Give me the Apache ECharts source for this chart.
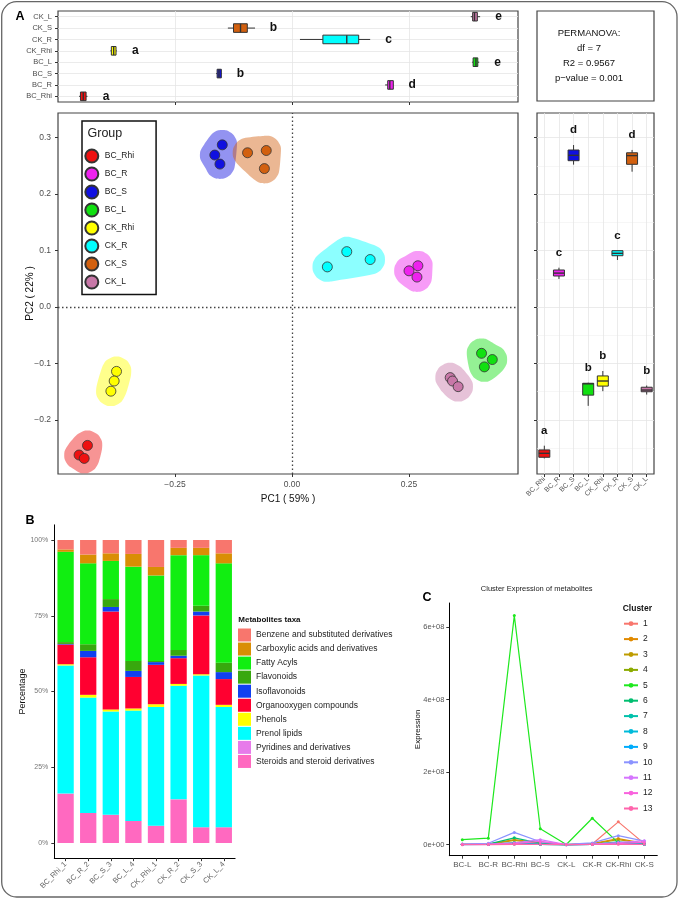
<!DOCTYPE html>
<html><head><meta charset="utf-8">
<script src="https://cdn.jsdelivr.net/npm/echarts@6/dist/echarts.min.js"></script>
<style>html,body{margin:0;padding:0;background:#fff}#c{width:679px;height:899px}</style>
</head><body><div id="c"></div><script>
const FONT = 'Liberation Sans, Arial, sans-serif';

// ---------- Panel A data ----------
const groups = ['BC_Rhi','BC_R','BC_S','BC_L','CK_Rhi','CK_R','CK_S','CK_L'];
const groupColors = ['#EE1111','#EE22EE','#1010E0','#11E011','#FFFF00','#00FFFF','#D2600F','#C878A8'];
const pc1Values = [
  [-0.437,-0.455,-0.444],
  [0.250,0.269,0.267],
  [-0.149,-0.165,-0.154],
  [0.405,0.428,0.411],
  [-0.375,-0.380,-0.387],
  [0.0755,0.117,0.167],
  [-0.095,-0.055,-0.059],
  [0.338,0.343,0.355]
];
const pc2Values = [
  [-0.245,-0.262,-0.268],
  [0.064,0.073,0.053],
  [0.287,0.269,0.253],
  [-0.082,-0.093,-0.106],
  [-0.114,-0.131,-0.149],
  [0.071,0.098,0.084],
  [0.273,0.277,0.245],
  [-0.125,-0.131,-0.141]
];
// boxplot stats: [min, q1, median, q3, max]
const pc1Box = [
  [-0.455,-0.452,-0.446,-0.440,-0.437],
  [0.199,0.2045,0.209,0.2165,0.217],
  [-0.162,-0.160,-0.156,-0.151,-0.150],
  [0.385,0.387,0.393,0.397,0.400],
  [-0.388,-0.386,-0.381,-0.376,-0.3745],
  [0.017,0.066,0.117,0.1425,0.167],
  [-0.137,-0.125,-0.110,-0.0955,-0.079],
  [0.382,0.386,0.390,0.396,0.402]
];
const pc1Letters = ['a','d','b','e','a','c','b','e'];
const pc2Box = [
  [-0.268,-0.266,-0.259,-0.253,-0.2455],
  [0.0496,0.0549,0.060,0.0655,0.0696],
  [0.252,0.259,0.2685,0.2779,0.2867],
  [-0.175,-0.156,-0.136,-0.135,-0.134],
  [-0.149,-0.140,-0.131,-0.122,-0.1133],
  [0.0832,0.0908,0.095,0.0997,0.0997],
  [0.2395,0.2526,0.268,0.273,0.278],
  [-0.155,-0.150,-0.147,-0.142,-0.139]
];
const pc2Letters = ['a','c','d','b','b','c','d','b'];
const pc1Ticks = [-0.25, 0, 0.25];
const pc2Ticks = [-0.2, -0.1, 0, 0.1, 0.2, 0.3];
const permanovaLines = ['PERMANOVA:', 'df = 7', 'R2 = 0.9567', 'p\u2212value = 0.001'];

// ---------- Panel B data ----------
const sampleNames = ['BC_Rhi_1','BC_R_2','BC_S_3','BC_L_4','CK_Rhi_1','CK_R_2','CK_S_3','CK_L_4'];
const taxaNames = ['Benzene and substituted derivatives','Carboxylic acids and derivatives','Fatty Acyls','Flavonoids','Isoflavonoids','Organooxygen compounds','Phenols','Prenol lipids','Pyridines and derivatives','Steroids and steroid derivatives'];
const taxaColors = ['#F8766D','#D98E04','#11EE11','#38A80E','#1040F0','#FF0030','#FFFF00','#00FFFF','#E77BEA','#FF69C0'];
const benzene      = [3.1,4.8,4.4,4.6,8.9,2.6,2.6,4.4];
const carboxylic   = [0.8,2.9,2.5,4.2,2.8,2.4,2.4,3.3];
const fattyAcyls   = [29.8,26.7,12.6,31.1,28.2,31.3,16.7,32.8];
const flavonoids   = [0.6,2.2,2.6,3.3,0.4,1.9,1.9,3.1];
const isoflavonoids= [0.2,2.1,1.5,2.0,0.9,0.8,1.3,2.3];
const organooxygen = [6.5,12.4,32.3,10.4,13.0,8.5,19.4,8.5];
const phenols      = [0.4,0.9,0.7,0.7,0.9,0.6,0.4,0.7];
const prenolLipids = [42.3,38.1,34.1,36.4,39.2,37.5,50.1,39.7];
const pyridines    = [0,0,0,0,0,0,0,0];
const steroids     = [16.3,9.9,9.3,7.3,5.7,14.4,5.2,5.2];
const taxaValues = [benzene,carboxylic,fattyAcyls,flavonoids,isoflavonoids,organooxygen,phenols,prenolLipids,pyridines,steroids];
const pctTicks = [0,25,50,75,100];

// ---------- Panel C data ----------
const clusterX = ['BC-L','BC-R','BC-Rhi','BC-S','CK-L','CK-R','CK-Rhi','CK-S'];
const clusterNames = ['1','2','3','4','5','6','7','8','9','10','11','12','13'];
const clusterColors = ['#F8766D','#E18A00','#BE9C00','#8CAB00','#1EE81E','#00BE70','#00C1AB','#00BBDA','#00ACFC','#8B93FF','#D575FE','#F962DD','#FF65AC'];
const cluster1  = [1e6,1e6,2e6,1e6,0.5e6,2e6,6.3e7,3e6];
const cluster2  = [1e6,1.5e6,1.4e7,5e6,0.5e6,3e6,1.7e7,4e6];
const cluster3  = [0.5e6,1e6,1.2e7,3e6,0.3e6,2e6,1.4e7,3e6];
const cluster4  = [0.5e6,1e6,4e6,1e6,0.3e6,1e6,4e6,1e6];
const cluster5  = [1.4e7,1.8e7,6.32e8,4.4e7,0.5e6,7.3e7,5e6,2e6];
const cluster6  = [1e6,1.5e6,1.9e7,4e6,0.5e6,2e6,6e6,2e6];
const cluster7  = [0.5e6,1e6,6e6,2e6,0.3e6,1e6,8e6,2e6];
const cluster8  = [0.5e6,0.5e6,3e6,1e6,0.2e6,1e6,4e6,1e6];
const cluster9  = [0.3e6,0.5e6,2e6,1e6,0.2e6,1e6,3e6,1e6];
const cluster10 = [2e6,4e6,3.4e7,8e6,1e6,5e6,2.5e7,1e7];
const cluster11 = [1e6,2e6,5e6,1.4e7,0.5e6,2e6,6e6,1.1e7];
const cluster12 = [0.5e6,1e6,3e6,9e6,0.3e6,1e6,3e6,7e6];
const cluster13 = [0.2e6,0.3e6,1e6,1e6,0.1e6,0.5e6,1e6,1e6];
const clusterValues = [cluster1,cluster2,cluster3,cluster4,cluster5,cluster6,cluster7,cluster8,cluster9,cluster10,cluster11,cluster12,cluster13];
const exprTicks = [0,2e8,4e8,6e8];

// ---------- helpers ----------
function rgba(hex, a){const n=parseInt(hex.slice(1),16);return `rgba(${n>>16&255},${n>>8&255},${n&255},${a})`;}
function minus(s){return s.replace('-','\u2212');}
function convexHull(pts){
  pts=pts.slice().sort((a,b)=>a[0]-b[0]||a[1]-b[1]);
  const cr=(o,a,b)=>(a[0]-o[0])*(b[1]-o[1])-(a[1]-o[1])*(b[0]-o[0]);
  const lo=[],up=[];
  for(const p of pts){while(lo.length>=2&&cr(lo[lo.length-2],lo[lo.length-1],p)<=0)lo.pop();lo.push(p);}
  for(let i=pts.length-1;i>=0;i--){const p=pts[i];while(up.length>=2&&cr(up[up.length-2],up[up.length-1],p)<=0)up.pop();up.push(p);}
  up.pop();lo.pop();return lo.concat(up);
}
const STROKE='#333';
function boxRender(horizontal, letters){
  return function(params, api){
    const i=api.value(0);
    const v=[1,2,3,4,5].map(k=>api.value(k));
    const pt=x=>horizontal?api.coord([x,i]):api.coord([i,x]);
    const p=v.map(pt);
    const ch=[];
    if(horizontal){
      const y=p[2][1], h=4.3;
      ch.push({type:'line',shape:{x1:p[0][0],y1:y,x2:p[1][0],y2:y},style:{stroke:STROKE,lineWidth:1}});
      ch.push({type:'line',shape:{x1:p[3][0],y1:y,x2:p[4][0],y2:y},style:{stroke:STROKE,lineWidth:1}});
      ch.push({type:'rect',shape:{x:p[1][0],y:y-h,width:Math.max(p[3][0]-p[1][0],1),height:2*h},style:{fill:groupColors[i],stroke:STROKE,lineWidth:1}});
      ch.push({type:'line',shape:{x1:p[2][0],y1:y-h,x2:p[2][0],y2:y+h},style:{stroke:STROKE,lineWidth:1.4}});
      ch.push({type:'text',x:p[4][0]+18.5,y:y,style:{text:letters[i],fill:'#111',font:'bold 12px '+FONT,align:'center',verticalAlign:'middle',textAlign:'center',textVerticalAlign:'middle'}});
    } else {
      const x=p[2][0], h=5.5;
      ch.push({type:'line',shape:{x1:x,y1:p[0][1],x2:x,y2:p[1][1]},style:{stroke:STROKE,lineWidth:1}});
      ch.push({type:'line',shape:{x1:x,y1:p[3][1],x2:x,y2:p[4][1]},style:{stroke:STROKE,lineWidth:1}});
      ch.push({type:'rect',shape:{x:x-h,y:p[3][1],width:2*h,height:Math.max(p[1][1]-p[3][1],1)},style:{fill:groupColors[i],stroke:STROKE,lineWidth:1}});
      ch.push({type:'line',shape:{x1:x-h,y1:p[2][1],x2:x+h,y2:p[2][1]},style:{stroke:STROKE,lineWidth:1.4}});
      ch.push({type:'text',x:x,y:p[4][1]-15,style:{text:letters[i],fill:'#111',font:'bold 11.5px '+FONT,align:'center',verticalAlign:'middle',textAlign:'center',textVerticalAlign:'middle'}});
    }
    return {type:'group',children:ch};
  };
}

const PC1_MIN=-0.5, PC1_MAX=0.4829, PC2_MIN=-0.2956, PC2_MAX=0.3434;
const lblGray='#4d4d4d';

const chart=echarts.init(document.getElementById('c'),null,{renderer:'canvas'});
const series=[];

// top boxplot (PC1)
series.push({type:'custom',name:'boxPC1',xAxisIndex:0,yAxisIndex:0,
  data:pc1Box.map((b,i)=>[i,...b]),encode:{x:[1,2,3,4,5],y:0},renderItem:boxRender(true,pc1Letters),z:3});
// hulls
series.push({type:'custom',name:'hulls',xAxisIndex:1,yAxisIndex:1,z:1,
  data:groups.map((g,i)=>[pc1Values[i][0],pc2Values[i][0],i]),encode:{x:0,y:1},
  renderItem:function(params,api){
    const gi=api.value(2), R=15, pts=[];
    pc1Values[gi].forEach((x,k)=>{
      const c=api.coord([x,pc2Values[gi][k]]);
      for(let a=0;a<12;a++){const t=(a+0.5)/12*2*Math.PI;pts.push([c[0]+R*Math.cos(t),c[1]+R*Math.sin(t)]);}
    });
    return {type:'polygon',shape:{points:convexHull(pts),smooth:0.25},style:{fill:rgba(groupColors[gi],0.45)}};
  }});
// scatter
groups.forEach((g,i)=>{
  const s={type:'scatter',name:g,xAxisIndex:1,yAxisIndex:1,z:3,symbol:'circle',symbolSize:10,
    data:pc1Values[i].map((x,k)=>[x,pc2Values[i][k]]),
    itemStyle:{color:groupColors[i],borderColor:'#333',borderWidth:0.8,opacity:1}};
  if(i===0){
    s.markLine={silent:true,symbol:['none','none'],label:{show:false},
      lineStyle:{type:[1.5,2.5],color:'#444',width:1.3},data:[{xAxis:0},{yAxis:0}]};
  }
  series.push(s);
});
// right boxplot (PC2)
series.push({type:'custom',name:'boxPC2',xAxisIndex:2,yAxisIndex:2,
  data:pc2Box.map((b,i)=>[i,...b]),encode:{x:0,y:[1,2,3,4,5]},renderItem:boxRender(false,pc2Letters),z:3});
// B stacked bars (bottom first)
for(let t=taxaNames.length-1;t>=0;t--){
  series.push({type:'bar',name:taxaNames[t],xAxisIndex:3,yAxisIndex:3,stack:'taxa',barWidth:16.3,
    data:taxaValues[t],itemStyle:{color:taxaColors[t]}});
}
// C lines
clusterNames.forEach((n,i)=>{
  series.push({type:'line',name:n,xAxisIndex:4,yAxisIndex:4,data:clusterValues[i],
    symbol:'circle',symbolSize:3,showSymbol:true,
    lineStyle:{width:1.2,color:clusterColors[i]},itemStyle:{color:clusterColors[i]}});
});

const gridBorder={show:true,borderColor:'#444',borderWidth:1.2,backgroundColor:'transparent'};
const splitLight={show:true,lineStyle:{color:'#e6e6e6',width:0.8}};
const idxAxis=(extra)=>Object.assign({type:'value',min:-0.5,max:7.5,splitNumber:8,minInterval:1,maxInterval:1,
  axisLine:{show:false,onZero:false},splitLine:splitLight},extra);

const option={
  animation:false,
  textStyle:{fontFamily:FONT},
  grid:[
    Object.assign({left:58,top:11,width:460,height:91},gridBorder),
    Object.assign({left:58,top:113,width:460,height:361},gridBorder),
    Object.assign({left:537,top:113,width:117,height:361},gridBorder),
    {left:54.3,top:524.85,width:180.8,height:333.3},
    {left:449.3,top:603,width:208,height:252.7}
  ],
  xAxis:[
    {type:'value',gridIndex:0,min:PC1_MIN,max:PC1_MAX,interval:0.125,
     axisLine:{show:false,onZero:false},axisLabel:{show:false},
     axisTick:{show:true,customValues:pc1Ticks,length:3,lineStyle:{color:'#333'}},splitLine:splitLight},
    {type:'value',gridIndex:1,min:PC1_MIN,max:PC1_MAX,interval:0.125,
     axisLine:{show:false,onZero:false},
     axisLabel:{customValues:pc1Ticks,fontSize:8.5,color:lblGray,margin:6,formatter:v=>minus(v.toFixed(2))},
     axisTick:{show:true,customValues:pc1Ticks,length:3,lineStyle:{color:'#333'}},splitLine:{show:false},
     name:'PC1 ( 59% )',nameLocation:'middle',nameGap:20,nameMoveOverlap:false,nameTextStyle:{fontSize:10,color:'#111'}},
    idxAxis({gridIndex:2,
     axisLabel:{customValues:[0,1,2,3,4,5,6,7],formatter:v=>groups[Math.round(v)],rotate:45,fontSize:7,color:'#555',margin:4},
     axisTick:{show:true,customValues:[0,1,2,3,4,5,6,7],length:3,lineStyle:{color:'#333'}}}),
    {type:'category',gridIndex:3,data:sampleNames,boundaryGap:true,
     axisLine:{show:true,onZero:false,lineStyle:{color:'#000',width:1}},
     axisTick:{show:true,alignWithLabel:true,length:3,lineStyle:{color:'#333'}},
     axisLabel:{rotate:45,fontSize:7.5,color:'#666',margin:5,interval:0}},
    {type:'category',gridIndex:4,data:clusterX,boundaryGap:true,
     axisLine:{show:true,onZero:false,lineStyle:{color:'#000',width:1}},
     axisTick:{show:true,alignWithLabel:true,length:3,lineStyle:{color:'#333'}},
     axisLabel:{fontSize:8,color:'#555',margin:5,interval:0,hideOverlap:false}}
  ],
  yAxis:[
    idxAxis({gridIndex:0,
     axisLabel:{customValues:[0,1,2,3,4,5,6,7],formatter:v=>groups[Math.round(v)],fontSize:7.5,color:lblGray,margin:6},
     axisTick:{show:true,customValues:[0,1,2,3,4,5,6,7],length:3,lineStyle:{color:'#333'}}}),
    {type:'value',gridIndex:1,min:PC2_MIN,max:PC2_MAX,splitNumber:6,
     axisLine:{show:false,onZero:false},
     axisLabel:{customValues:pc2Ticks,fontSize:8.5,color:lblGray,margin:7,formatter:v=>minus(v.toFixed(1))},
     axisTick:{show:true,customValues:pc2Ticks,length:3,lineStyle:{color:'#333'}},splitLine:{show:false},
     name:'PC2 ( 22% )',nameLocation:'middle',nameRotate:90,nameGap:23,nameMoveOverlap:false,nameTextStyle:{fontSize:10,color:'#111'}},
    {type:'value',gridIndex:2,min:PC2_MIN,max:PC2_MAX,splitNumber:6,
     axisLine:{show:false,onZero:false},axisLabel:{show:false},
     axisTick:{show:true,customValues:pc2Ticks,length:3,lineStyle:{color:'#333'}},
     splitLine:splitLight,minorTick:{show:false,splitNumber:2},
     minorSplitLine:{show:true,lineStyle:{color:'#f0f0f0',width:0.6}}},
    {type:'value',gridIndex:3,min:-5,max:105,
     axisLine:{show:true,onZero:false,lineStyle:{color:'#000',width:1}},
     axisTick:{show:true,customValues:pctTicks,length:3,lineStyle:{color:'#333'}},
     axisLabel:{customValues:pctTicks,formatter:v=>v+'%',fontSize:7,color:'#777',margin:6},
     splitLine:{show:false},
     name:'Percentage',nameLocation:'middle',nameRotate:90,nameGap:27,nameMoveOverlap:false,nameTextStyle:{fontSize:9,color:'#111'}},
    {type:'value',gridIndex:4,min:-0.3034e8,max:6.668e8,
     axisLine:{show:true,onZero:false,lineStyle:{color:'#000',width:1}},
     axisTick:{show:true,customValues:exprTicks,length:3,lineStyle:{color:'#333'}},
     axisLabel:{customValues:exprTicks,fontSize:7.5,color:'#555',margin:5,
       formatter:v=>v===0?'0e+00':(v/1e8)+'e+08'},
     splitLine:{show:false},
     name:'Expression',nameLocation:'middle',nameRotate:90,nameGap:28,nameMoveOverlap:false,nameTextStyle:{fontSize:8,color:'#111'}}
  ],
  legend:[
    {data:groups,orient:'vertical',left:82,top:121,icon:'circle',itemWidth:16,itemHeight:13,itemGap:3,
     padding:[27.5,22,5,2.3],borderColor:'#111',borderWidth:1.5,selectedMode:false,
     textStyle:{fontSize:8.5,color:'#222',fontFamily:FONT}},
    {data:taxaNames,orient:'vertical',left:238,top:628.5,icon:'rect',itemWidth:13,itemHeight:13,itemGap:1.05,
     padding:0,selectedMode:false,textStyle:{fontSize:8.5,color:'#222',fontFamily:FONT}},
    {data:clusterNames,orient:'vertical',left:623,top:619.2,itemWidth:14,itemHeight:6,itemGap:6.4,
     padding:0,selectedMode:false,textStyle:{fontSize:8.5,color:'#222',fontFamily:FONT}}
  ],
  graphic:[
    {type:'rect',shape:{x:1.7,y:1.7,width:675.3,height:895.3,r:15},style:{fill:'none',stroke:'#666',lineWidth:1.3},z:100},
    {type:'rect',shape:{x:537,y:11,width:117,height:90},style:{fill:'none',stroke:'#444',lineWidth:1.2}},
    ...permanovaLines.map((t,k)=>({type:'text',x:589,y:33.3+k*14.9,style:{text:t,font:'9.5px '+FONT,fill:'#111',align:'center',verticalAlign:'middle',textAlign:'center',textVerticalAlign:'middle'}})),
    {type:'text',x:20,y:17,style:{text:'A',font:'bold 12.5px '+FONT,fill:'#000',align:'center',verticalAlign:'middle',textAlign:'center',textVerticalAlign:'middle'}},
    {type:'text',x:30,y:521,style:{text:'B',font:'bold 12.5px '+FONT,fill:'#000',align:'center',verticalAlign:'middle',textAlign:'center',textVerticalAlign:'middle'}},
    {type:'text',x:427,y:598,style:{text:'C',font:'bold 12.5px '+FONT,fill:'#000',align:'center',verticalAlign:'middle',textAlign:'center',textVerticalAlign:'middle'}},
    {type:'text',x:87.5,y:133.5,z:10,style:{text:'Group',font:'12.5px '+FONT,fill:'#222',align:'left',verticalAlign:'middle',textAlign:'left',textVerticalAlign:'middle'}},
    {type:'text',x:238.3,y:620,style:{text:'Metabolites taxa',font:'bold 8px '+FONT,fill:'#111',align:'left',verticalAlign:'middle',textAlign:'left',textVerticalAlign:'middle'}},
    {type:'text',x:622.7,y:608.7,style:{text:'Cluster',font:'bold 8.5px '+FONT,fill:'#111',align:'left',verticalAlign:'middle',textAlign:'left',textVerticalAlign:'middle'}},
    {type:'text',x:536.7,y:589,style:{text:'Cluster Expression of metabolites',font:'7.5px '+FONT,fill:'#222',align:'center',verticalAlign:'middle',textAlign:'center',textVerticalAlign:'middle'}}
  ],
  series:series
};
chart.setOption(option);
</script></body></html>
